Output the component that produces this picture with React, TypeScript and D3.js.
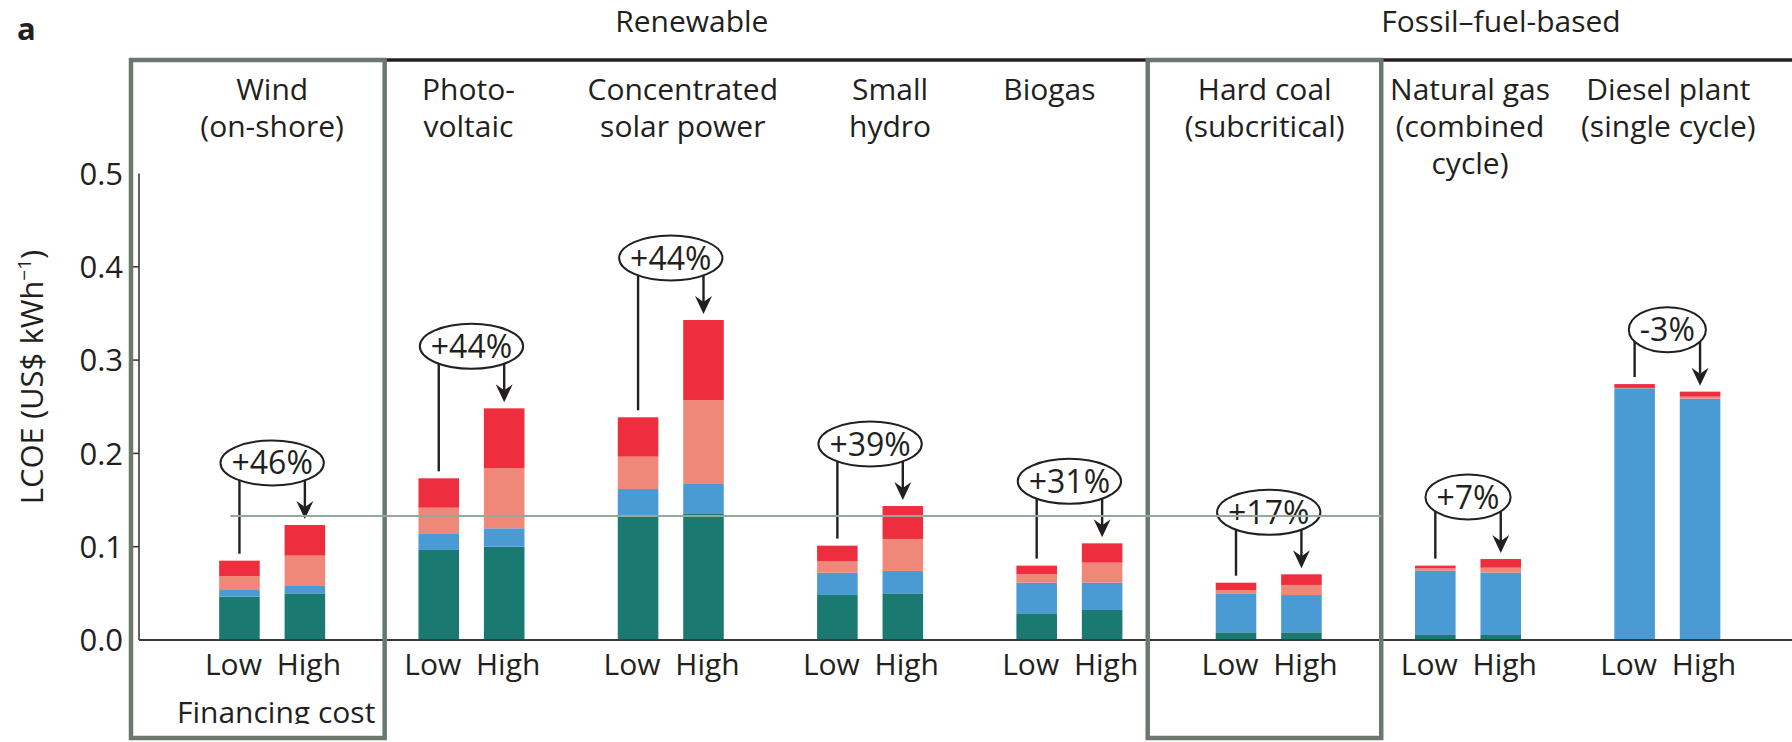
import React, { useEffect, useRef } from "react";
import * as d3 from "d3";

// ---------- data ----------
const groups = [
  "Wind (on-shore)",
  "Photovoltaic",
  "Concentrated solar power",
  "Small hydro",
  "Biogas",
  "Hard coal (subcritical)",
  "Natural gas (combined cycle)",
  "Diesel plant (single cycle)",
];
const groupLabelLines = [
  ["Wind", "(on-shore)"],
  ["Photo-", "voltaic"],
  ["Concentrated", "solar power"],
  ["Small", "hydro"],
  ["Biogas"],
  ["Hard coal", "(subcritical)"],
  ["Natural gas", "(combined", "cycle)"],
  ["Diesel plant", "(single cycle)"],
];
const financingLevels = ["Low", "High"];
const components = ["Capital", "Fuel and O&M", "Debt cost", "Equity cost"];

// values in US$ per kWh, one per group
const capitalLow = [0.0464, 0.0965, 0.134, 0.0482, 0.0286, 0.0082, 0.0054, 0.0];
const capitalHigh = [0.05, 0.1, 0.1358, 0.05, 0.0322, 0.0082, 0.0054, 0.0];
const fuelOmLow = [0.0072, 0.0179, 0.0278, 0.0239, 0.0328, 0.0418, 0.0689, 0.2698];
const fuelOmHigh = [0.0079, 0.0197, 0.0314, 0.024, 0.0292, 0.04, 0.0668, 0.2586];
const debtLow = [0.015, 0.0274, 0.0347, 0.0126, 0.009, 0.0036, 0.0025, 0.0004];
const debtHigh = [0.0325, 0.0643, 0.09, 0.0343, 0.0215, 0.0108, 0.0053, 0.0022];
const equityLow = [0.0164, 0.0315, 0.0422, 0.0164, 0.0093, 0.0078, 0.0029, 0.0041];
const equityHigh = [0.0329, 0.0643, 0.0858, 0.0353, 0.0207, 0.0114, 0.0093, 0.0054];

const changeLabels = ["+46%", "+44%", "+44%", "+39%", "+31%", "+17%", "+7%", "-3%"];
const sectorLabels = ["Renewable", "Fossil\u2013fuel-based"];
const yTicks = [0, 0.1, 0.2, 0.3, 0.4, 0.5];
const referenceValue = 0.133;
const highlightedGroups = ["Wind (on-shore)", "Hard coal (subcritical)"];

// ---------- style / layout ----------
const W = 1792;
const H = 742;
const FONT = "'Open Sans', 'Noto Sans', sans-serif";
const TEXT = "#231f20";
const COLORS = ["#1a7a72", "#4a9bd4", "#ef8878", "#ee2e3f"];
const BOX = "#6b786f";
const REF = "#93a99b";
const labelDx = [0, -3, 12, 20, -20, -4, 2, 1];

export default function App() {
  const ref = useRef<SVGSVGElement | null>(null);

  useEffect(() => {
    const svg = d3.select(ref.current);
    svg.selectAll("*").remove();

    const y = d3.scaleLinear().domain([0, 0.5]).range([640, 173.5]);
    const x0 = d3.scaleBand<string>().domain(groups).range([172.5, 1767]).padding(0);
    const bw = x0.bandwidth();
    const x1 = d3
      .scaleBand<string>()
      .domain(financingLevels)
      .range([bw / 2 - 53, bw / 2 + 53])
      .paddingInner(0.38)
      .paddingOuter(0);
    const bw1 = x1.bandwidth();
    const center = (g: string) => (x0(g) as number) + bw / 2;
    const barCenter = (g: string, l: string) => (x0(g) as number) + (x1(l) as number) + bw1 / 2;
    const axisX = 139;

    const defs = svg.append("defs");
    defs
      .append("clipPath")
      .attr("id", "clipBottom")
      .append("rect")
      .attr("x", 0)
      .attr("y", 0)
      .attr("width", W)
      .attr("height", 724);

    // rows of stacked data
    const rows: any[] = [];
    groups.forEach((g, i) => {
      rows.push({ group: g, level: "Low", Capital: capitalLow[i], "Fuel and O&M": fuelOmLow[i], "Debt cost": debtLow[i], "Equity cost": equityLow[i] });
      rows.push({ group: g, level: "High", Capital: capitalHigh[i], "Fuel and O&M": fuelOmHigh[i], "Debt cost": debtHigh[i], "Equity cost": equityHigh[i] });
    });
    const series = d3.stack<any>().keys(components)(rows);
    const totals = rows.map((r) => components.reduce((s, k) => s + r[k], 0));

    // bars
    const gBars = svg.append("g");
    series.forEach((s, si) => {
      gBars
        .append("g")
        .attr("fill", COLORS[si])
        .selectAll("rect")
        .data(s)
        .join("rect")
        .attr("x", (d: any) => (x0(d.data.group) as number) + (x1(d.data.level) as number))
        .attr("width", bw1)
        .attr("y", (d: any) => y(d[1]))
        .attr("height", (d: any) => Math.max(0, y(d[0]) - y(d[1])));
    });

    // baseline
    svg
      .append("line")
      .attr("x1", axisX)
      .attr("x2", W)
      .attr("y1", y(0))
      .attr("y2", y(0))
      .attr("stroke", "#3a3a3a")
      .attr("stroke-width", 2);

    // y axis
    const gAxis = svg.append("g");
    gAxis
      .append("line")
      .attr("x1", axisX)
      .attr("x2", axisX)
      .attr("y1", y(0.5))
      .attr("y2", y(0))
      .attr("stroke", "#3a3a3a")
      .attr("stroke-width", 1.6);
    gAxis
      .selectAll("line.tick")
      .data(yTicks.filter((t) => t > 0 && t < 0.5))
      .join("line")
      .attr("class", "tick")
      .attr("x1", axisX - 6)
      .attr("x2", axisX)
      .attr("y1", (d) => y(d))
      .attr("y2", (d) => y(d))
      .attr("stroke", "#3a3a3a")
      .attr("stroke-width", 1.6);
    gAxis
      .selectAll("text")
      .data(yTicks)
      .join("text")
      .attr("x", 123)
      .attr("y", (d) => y(d))
      .attr("dy", "0.36em")
      .attr("text-anchor", "end")
      .attr("font-family", FONT)
      .attr("font-size", 31)
      .attr("fill", TEXT)
      .text((d) => d3.format(".1f")(d));

    const yt = svg
      .append("text")
      .attr("transform", `translate(43,377) rotate(-90)`)
      .attr("text-anchor", "middle")
      .attr("font-family", FONT)
      .attr("font-size", 31)
      .attr("fill", TEXT);
    yt.append("tspan").text("LCOE (US$ kWh");
    yt.append("tspan").attr("font-size", 19).attr("dy", -12).text("\u22121");
    yt.append("tspan").attr("dy", 12).text(")");

    // top black line
    svg
      .append("line")
      .attr("x1", 384)
      .attr("x2", W)
      .attr("y1", 60)
      .attr("y2", 60)
      .attr("stroke", TEXT)
      .attr("stroke-width", 3.5);

    // highlight boxes
    highlightedGroups.forEach((g) => {
      const c = center(g);
      const i = groups.indexOf(g);
      const left = i === 0 ? axisX - 8 : c - 121;
      const right = c + 112.5;
      svg
        .append("rect")
        .attr("x", left)
        .attr("y", 60)
        .attr("width", right - left)
        .attr("height", 678)
        .attr("fill", "none")
        .attr("stroke", BOX)
        .attr("stroke-width", 4.5);
    });

    // group labels
    groups.forEach((g, i) => {
      const t = svg
        .append("text")
        .attr("text-anchor", "middle")
        .attr("font-family", FONT)
        .attr("font-size", 30)
        .attr("fill", TEXT);
      groupLabelLines[i].forEach((line, li) => {
        t.append("tspan")
          .attr("x", center(g) + labelDx[i])
          .attr("y", 100 + li * 37)
          .text(line);
      });
    });

    // sector labels
    const sectorX = [
      (center(groups[0]) + center(groups[4])) / 2 + 21,
      (center(groups[5]) + center(groups[7])) / 2 + 33,
    ];
    sectorLabels.forEach((s, i) => {
      svg
        .append("text")
        .attr("x", sectorX[i])
        .attr("y", 32)
        .attr("text-anchor", "middle")
        .attr("font-family", FONT)
        .attr("font-size", 30)
        .attr("fill", TEXT)
        .text(s);
    });

    // panel letter
    svg
      .append("text")
      .attr("x", 17)
      .attr("y", 40)
      .attr("font-family", FONT)
      .attr("font-weight", "bold")
      .attr("font-size", 31)
      .attr("fill", TEXT)
      .text("a");

    // Low / High labels
    groups.forEach((g) => {
      financingLevels.forEach((l, li) => {
        svg
          .append("text")
          .attr("x", barCenter(g, l) + (li === 0 ? -6 : 4))
          .attr("y", 675)
          .attr("text-anchor", "middle")
          .attr("font-family", FONT)
          .attr("font-size", 30)
          .attr("fill", TEXT)
          .text(l);
      });
    });

    svg
      .append("text")
      .attr("x", center(groups[0]) + 4)
      .attr("y", 723)
      .attr("text-anchor", "middle")
      .attr("font-family", FONT)
      .attr("font-size", 30)
      .attr("fill", TEXT)
      .attr("clip-path", "url(#clipBottom)")
      .text("Financing cost");

    // change annotations
    groups.forEach((g, i) => {
      const lowT = totals[i * 2];
      const highT = totals[i * 2 + 1];
      const cx = center(g);
      const cy = y(highT) - 62;
      const ry = 22.5;
      const txt = svg
        .append("text")
        .attr("x", cx)
        .attr("y", cy)
        .attr("dy", "0.36em")
        .attr("text-anchor", "middle")
        .attr("font-family", FONT)
        .attr("font-size", 32)
        .attr("fill", TEXT)
        .text(changeLabels[i]);
      const tw = (txt.node() as SVGTextElement).getComputedTextLength();
      const rx = tw / 2 + 11;
      svg
        .append("ellipse")
        .attr("cx", cx)
        .attr("cy", cy)
        .attr("rx", rx)
        .attr("ry", ry)
        .attr("fill", "none")
        .attr("stroke", TEXT)
        .attr("stroke-width", 2);
      const edgeY = (x: number) => {
        const dx = x - cx;
        const k = 1 - (dx / rx) * (dx / rx);
        return cy + ry * Math.sqrt(Math.max(0, k));
      };
      const lx = barCenter(g, "Low");
      svg
        .append("line")
        .attr("x1", lx)
        .attr("x2", lx)
        .attr("y1", edgeY(lx))
        .attr("y2", y(lowT) - 7)
        .attr("stroke", TEXT)
        .attr("stroke-width", 2.4);
      const hx = barCenter(g, "High");
      const tip = y(highT) - 6;
      svg
        .append("line")
        .attr("x1", hx)
        .attr("x2", hx)
        .attr("y1", edgeY(hx))
        .attr("y2", tip - 12)
        .attr("stroke", TEXT)
        .attr("stroke-width", 2.4);
      svg
        .append("path")
        .attr("d", `M${hx},${tip} L${hx - 8.5},${tip - 18} L${hx},${tip - 12} L${hx + 8.5},${tip - 18} Z`)
        .attr("fill", TEXT);
    });

    // reference line
    const hcBoxRight = center(groups[5]) + 112.5;
    svg
      .append("line")
      .attr("x1", barCenter(groups[0], "Low") - 9)
      .attr("x2", hcBoxRight)
      .attr("y1", y(referenceValue))
      .attr("y2", y(referenceValue))
      .attr("stroke", REF)
      .attr("stroke-width", 2);
  }, []);

  return (
    <div style={{ position: "absolute", left: 0, top: 0, width: W, height: H, background: "#fff" }}>
      <svg ref={ref} width={W} height={H} style={{ display: "block" }} />
    </div>
  );
}
